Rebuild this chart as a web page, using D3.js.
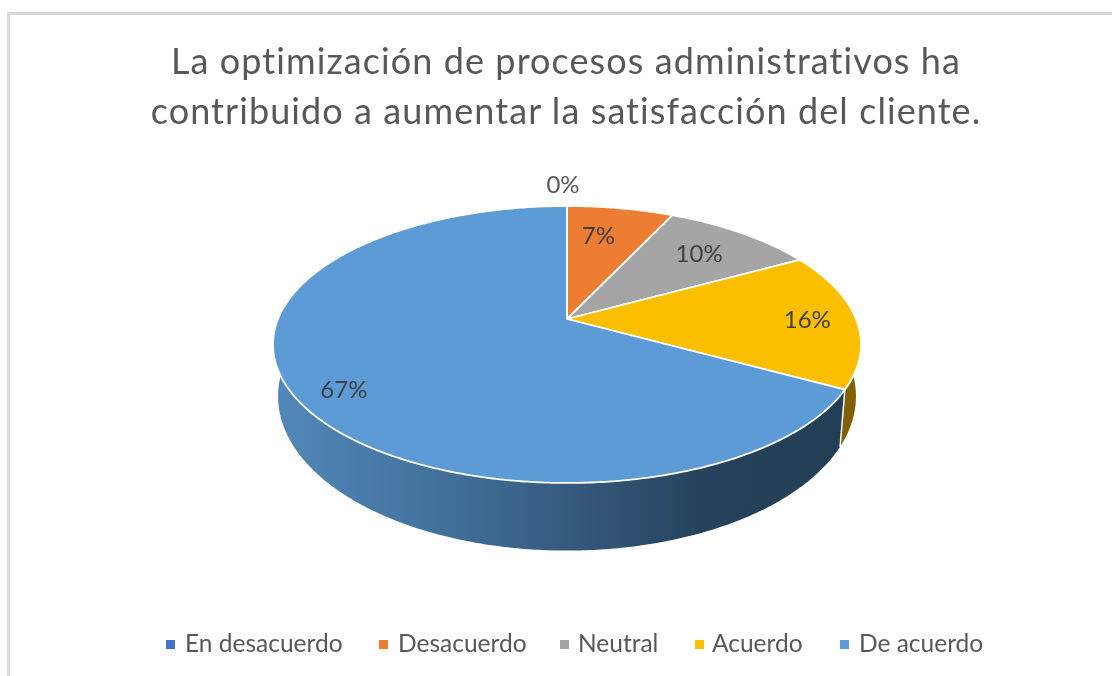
<!DOCTYPE html>
<html>
<head>
<meta charset="utf-8">
<script src="https://cdn.jsdelivr.net/npm/d3@7"></script>
<style>
body { margin: 0; background: #fff; overflow: hidden; }
text { font-family: Lato, "Open Sans", sans-serif; }
</style>
</head>
<body>
<div class="canvas"></div>
<script>
var categories = ["En desacuerdo", "Desacuerdo", "Neutral", "Acuerdo", "De acuerdo"];
var values = [0, 7, 10, 16, 67];
var colors = ["#4472c4", "#ed7d31", "#a5a5a5", "#fcbf00", "#5b9bd5"];
var titleLines = ["La optimización de procesos administrativos ha", "contribuido a aumentar la satisfacción del cliente."];

var root = d3.select(".canvas").append("svg")
	.attr("width", 1112)
	.attr("height", 676)
	.style("display", "block");

var defs = root.append("defs");

// the reference is a slightly soft screenshot
defs.append("filter")
	.attr("id", "soft")
	.attr("filterUnits", "userSpaceOnUse")
	.attr("x", 0).attr("y", 0).attr("width", 1112).attr("height", 676)
	.append("feGaussianBlur")
	.attr("stdDeviation", 0.45);

var svg = root.append("g").attr("filter", "url(#soft)");

// frame, the crop only shows top and left
svg.append("path")
	.attr("d", "M8.5,676V13.5H1112")
	.attr("fill", "none")
	.attr("stroke", "#d9d9d9")
	.attr("stroke-width", 2.8);

svg.selectAll(".title").data(titleLines).enter().append("text")
	.attr("class", "title")
	.attr("x", 566)
	.attr("y", function(d, i){ return 74 + i * 50; })
	.attr("text-anchor", "middle")
	.attr("font-size", "36px")
	.attr("letter-spacing", "1.08px")
	.attr("fill", "#595959")
	.text(function(d){ return d; });

// perspective of the two discs (u to the right, v towards viewer)
var topDisc = { cx: 567, cy: 319, rx: 289, ry: 133.8, k: 0.184 };
var lowDisc = { cx: 567, cy: 368, rx: 284, ry: 149, k: 0.184 };

function project(disc, angle){
	var u = Math.sin(angle), v = -Math.cos(angle);
	var w = 1 - disc.k * v;
	return [disc.cx + disc.rx * u / w, disc.cy + disc.ry * v / w];
}

function arcPoints(disc, a0, a1){
	var n = Math.max(2, Math.ceil((a1 - a0) / 0.01));
	return d3.range(n + 1).map(function(i){
		return project(disc, a0 + (a1 - a0) * i / n);
	});
}

var line = d3.line();
var arcs = d3.pie().sort(null).value(function(d){ return d; })(values);

var grad = defs.append("linearGradient")
	.attr("id", "wallBlue")
	.attr("gradientUnits", "userSpaceOnUse")
	.attr("x1", 275).attr("x2", 845).attr("y1", 0).attr("y2", 0);
grad.append("stop").attr("offset", "0").attr("stop-color", "#5288b9");
grad.append("stop").attr("offset", "0.3").attr("stop-color", "#41709b");
grad.append("stop").attr("offset", "0.55").attr("stop-color", "#345779");
grad.append("stop").attr("offset", "0.75").attr("stop-color", "#25425c");
grad.append("stop").attr("offset", "1").attr("stop-color", "#243e55");

// side walls
svg.selectAll(".wall").data(arcs).enter().append("path")
	.attr("class", "wall")
	.attr("fill", function(d, i){ return i == 4 ? "url(#wallBlue)" : d3.rgb(colors[i]).darker(1.9); })
	.attr("d", function(d){
		if (d.value == 0) return null;
		var pts = arcPoints(topDisc, d.startAngle, d.endAngle)
			.concat(arcPoints(lowDisc, d.startAngle, d.endAngle).reverse());
		return line(pts) + "Z";
	});

// seam between yellow and blue walls
var seam = arcs[4].startAngle;
svg.append("path")
	.attr("d", line([project(topDisc, seam), project(lowDisc, seam)]))
	.attr("stroke", "#fff")
	.attr("stroke-width", 1.5);

// top of the pie
svg.selectAll(".slice").data(arcs).enter().append("path")
	.attr("class", "slice")
	.attr("fill", function(d, i){ return colors[i]; })
	.attr("stroke", "#fff")
	.attr("stroke-width", 1.8)
	.attr("stroke-linejoin", "round")
	.attr("d", function(d){
		if (d.value == 0) return null;
		return line([[topDisc.cx, topDisc.cy]].concat(arcPoints(topDisc, d.startAngle, d.endAngle))) + "Z";
	});

// data labels: 70% out to the slice middle, then nudged
var labelDx = [-4, -6, 10, 38, -31];
var labelDy = [-55, -5.5, -5, 1, 18];
function labelPos(d, i){
	var p = project(topDisc, (d.startAngle + d.endAngle) / 2);
	return [topDisc.cx + (p[0] - topDisc.cx) * 0.7 + labelDx[i],
		topDisc.cy + (p[1] - topDisc.cy) * 0.7 + labelDy[i] + 8];
}
svg.selectAll(".pct").data(arcs).enter().append("text")
	.attr("class", "pct")
	.attr("x", function(d, i){ return labelPos(d, i)[0]; })
	.attr("y", function(d, i){ return labelPos(d, i)[1]; })
	.attr("text-anchor", "middle")
	.attr("font-size", "24px")
	.attr("fill", function(d, i){ return i == 0 ? "#595959" : "#404040"; })
	.text(function(d){ return d.value + "%"; });

// legend
var legendX = [166, 379, 560, 695, 840];
var legendTextX = [19, 19, 18, 17, 19];
var legend = svg.selectAll(".legend").data(categories).enter().append("g")
	.attr("class", "legend")
	.attr("transform", function(d, i){ return "translate(" + legendX[i] + ",640)"; });
legend.append("rect")
	.attr("width", 9).attr("height", 9)
	.attr("fill", function(d, i){ return colors[i]; });
legend.append("text")
	.attr("x", function(d, i){ return legendTextX[i]; })
	.attr("y", 12)
	.attr("font-size", "24.5px")
	.attr("fill", "#595959")
	.text(function(d){ return d; });
</script>
</body>
</html>
